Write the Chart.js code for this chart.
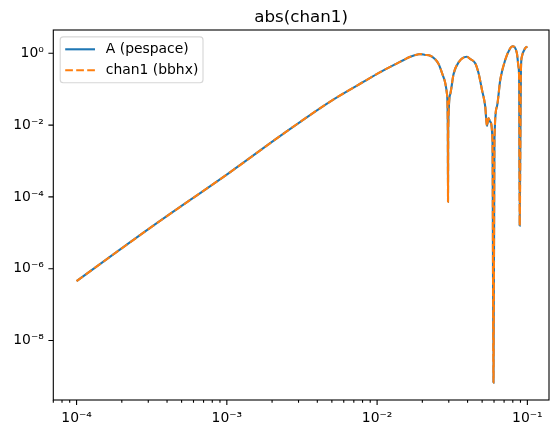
<!DOCTYPE html>
<html>
<head>
<meta charset="utf-8">
<title>abs(chan1)</title>
<script src="https://cdn.jsdelivr.net/npm/chart.js@4.4.1/dist/chart.umd.min.js"></script>
<style>
  html, body { margin: 0; padding: 0; background: #ffffff; }
  #grafico { display: block; }
</style>
</head>
<body>
<canvas id="grafico" width="559" height="438"></canvas>
<script>
// datos (frecuencia en Hz, amplitud absoluta)
const freqs = [
  1e-4, 3.12e-4, 1.06e-3, 2.27e-3, 4.9e-3, 8.15e-3, 0.0105, 0.01358,
  0.01503, 0.01663, 0.0189, 0.0194, 0.02094, 0.02259, 0.02566, 0.0277,
  0.02917, 0.02955, 0.02964, 0.02975, 0.03069, 0.03228, 0.03485, 0.0395,
  0.04169, 0.04498, 0.04735, 0.0499, 0.05245, 0.05383, 0.05515, 0.05659,
  0.0586, 0.0595, 0.0604, 0.0627, 0.066, 0.0712, 0.0769, 0.0795,
  0.0852, 0.0873, 0.0882, 0.0889, 0.0906, 0.0919, 0.0967, 0.1
];
const absPespace = [
  4.5e-7, 1.41e-5, 5.0e-4, 5.0e-3, 0.046, 0.162, 0.30, 0.526,
  0.65, 0.80, 0.94, 0.95, 0.90, 0.857, 0.504, 0.214,
  0.0735, 0.008, 7.3e-5, 0.008, 0.0735, 0.265, 0.561, 0.80,
  0.694, 0.526, 0.277, 0.095, 0.0326, 0.0094, 0.0155, 0.0124,
  0.0038, 6.7e-10, 0.0038, 0.0326, 0.18, 0.65, 1.38, 1.57,
  1.0, 0.42, 0.18, 1.58e-5, 0.343, 0.80, 1.38, 1.55
];
const absBbhx = [
  4.5e-7, 1.41e-5, 5.0e-4, 5.0e-3, 0.046, 0.162, 0.30, 0.526,
  0.65, 0.80, 0.94, 0.95, 0.90, 0.857, 0.504, 0.214,
  0.0735, 0.008, 7.3e-5, 0.008, 0.0735, 0.265, 0.561, 0.80,
  0.694, 0.526, 0.277, 0.095, 0.0326, 0.0094, 0.0155, 0.0124,
  0.0038, 6.7e-10, 0.0038, 0.0326, 0.18, 0.65, 1.38, 1.57,
  1.0, 0.42, 0.18, 1.58e-5, 0.343, 0.80, 1.38, 1.55
];
const seriesLabels = ["A (pespace)", "chan1 (bbhx)"];
const xTickVals = [1e-4, 1e-3, 1e-2, 1e-1];
const xTickLabels = ["10\u207B\u2074", "10\u207B\u00B3", "10\u207B\u00B2", "10\u207B\u00B9"];
const yTickVals = [1e-8, 1e-6, 1e-4, 1e-2, 1];
const yTickLabels = ["10\u207B\u2078", "10\u207B\u2076", "10\u207B\u2074", "10\u207B\u00B2", "10\u2070"];
const titulo = "abs(chan1)";

const FUENTE = "'DejaVu Sans', sans-serif";
const AZUL = "#1f77b4";
const NARANJA = "#ff7f0e";

function puntos(ys) {
  return freqs.map((f, i) => ({ x: f, y: ys[i] }));
}

// marco, marcas de ejes, titulo y leyenda al estilo matplotlib
const estiloMpl = {
  id: "estiloMpl",
  afterDraw(chart) {
    const ctx = chart.ctx;
    const a = chart.chartArea;
    const sx = chart.scales.x;
    const sy = chart.scales.y;
    ctx.save();
    ctx.strokeStyle = "#000";
    ctx.lineWidth = 1.1;
    ctx.strokeRect(a.left, a.top, a.right - a.left, a.bottom - a.top);

    // marcas mayores y menores del eje x
    ctx.beginPath();
    for (let e = -5; e <= 0; e++) {
      for (let m = 1; m <= 9; m++) {
        const v = m * Math.pow(10, e);
        if (v < sx.min || v > sx.max) continue;
        const px = sx.getPixelForValue(v);
        const largo = m === 1 ? 4.9 : 2.8;
        ctx.moveTo(px, a.bottom);
        ctx.lineTo(px, a.bottom + largo);
      }
    }
    yTickVals.forEach((v) => {
      const py = sy.getPixelForValue(v);
      ctx.moveTo(a.left, py);
      ctx.lineTo(a.left - 4.9, py);
    });
    ctx.stroke();

    // titulo centrado sobre los ejes
    ctx.fillStyle = "#000";
    ctx.font = "16.7px " + FUENTE;
    ctx.textAlign = "center";
    ctx.textBaseline = "alphabetic";
    ctx.fillText(titulo, (a.left + a.right) / 2, a.top - 8.3);

    // leyenda
    const lx = a.left + 6.9, ly = a.top + 6.9, lw = 142.8, lh = 45.8;
    ctx.beginPath();
    ctx.roundRect(lx, ly, lw, lh, 3);
    ctx.fillStyle = "rgba(255,255,255,0.8)";
    ctx.fill();
    ctx.strokeStyle = "rgba(204,204,204,0.8)";
    ctx.lineWidth = 1.1;
    ctx.stroke();
    ctx.font = "13.9px " + FUENTE;
    ctx.textAlign = "left";
    ctx.textBaseline = "middle";
    chart.data.datasets.forEach((ds, i) => {
      const yy = ly + 12.4 + i * 21;
      ctx.beginPath();
      ctx.strokeStyle = ds.borderColor;
      ctx.lineWidth = ds.borderWidth;
      ctx.setLineDash(ds.borderDash || []);
      ctx.moveTo(lx + 5, yy);
      ctx.lineTo(lx + 34.8, yy);
      ctx.stroke();
      ctx.setLineDash([]);
      ctx.fillStyle = "#000";
      ctx.fillText(ds.label, lx + 45.6, yy);
    });
    ctx.restore();
  },
};

const grafico = new Chart(document.getElementById("grafico"), {
  type: "line",
  data: {
    datasets: [
      {
        label: seriesLabels[0],
        data: puntos(absPespace),
        borderColor: AZUL,
        borderWidth: 2.1,
        pointRadius: 0,
        cubicInterpolationMode: "monotone",
        order: 1,
      },
      {
        label: seriesLabels[1],
        data: puntos(absBbhx),
        borderColor: NARANJA,
        borderWidth: 2.1,
        borderDash: [7.7, 3.3],
        pointRadius: 0,
        cubicInterpolationMode: "monotone",
        order: 0,
      },
    ],
  },
  options: {
    responsive: false,
    animation: false,
    devicePixelRatio: 1,
    layout: { padding: { top: 30, right: 10, left: 0, bottom: 0 } },
    plugins: {
      legend: { display: false },
      tooltip: { enabled: false },
      title: { display: false },
    },
    scales: {
      x: {
        type: "logarithmic",
        min: Math.pow(10, -4.149),
        max: Math.pow(10, -0.856),
        grid: { display: false, drawTicks: false },
        border: { display: false },
        afterBuildTicks: (eje) => {
          eje.ticks = xTickVals.map((v) => ({ value: v, major: true }));
        },
        afterFit: (eje) => { eje.height = 38; },
        ticks: {
          autoSkip: false,
          maxRotation: 0,
          padding: 10,
          color: "#000",
          font: { family: FUENTE, size: 13.9 },
          callback: (v, i) => xTickLabels[i],
        },
      },
      y: {
        type: "logarithmic",
        min: Math.pow(10, -9.657),
        max: Math.pow(10, 0.649),
        grid: { display: false, drawTicks: false },
        border: { display: false },
        afterBuildTicks: (eje) => {
          eje.ticks = yTickVals.map((v) => ({ value: v, major: true }));
        },
        afterFit: (eje) => { eje.width = 53.3; },
        ticks: {
          autoSkip: false,
          padding: 9.5,
          color: "#000",
          font: { family: FUENTE, size: 13.9 },
          callback: (v, i) => yTickLabels[i],
        },
      },
    },
  },
  plugins: [estiloMpl],
});
</script>
</body>
</html>
